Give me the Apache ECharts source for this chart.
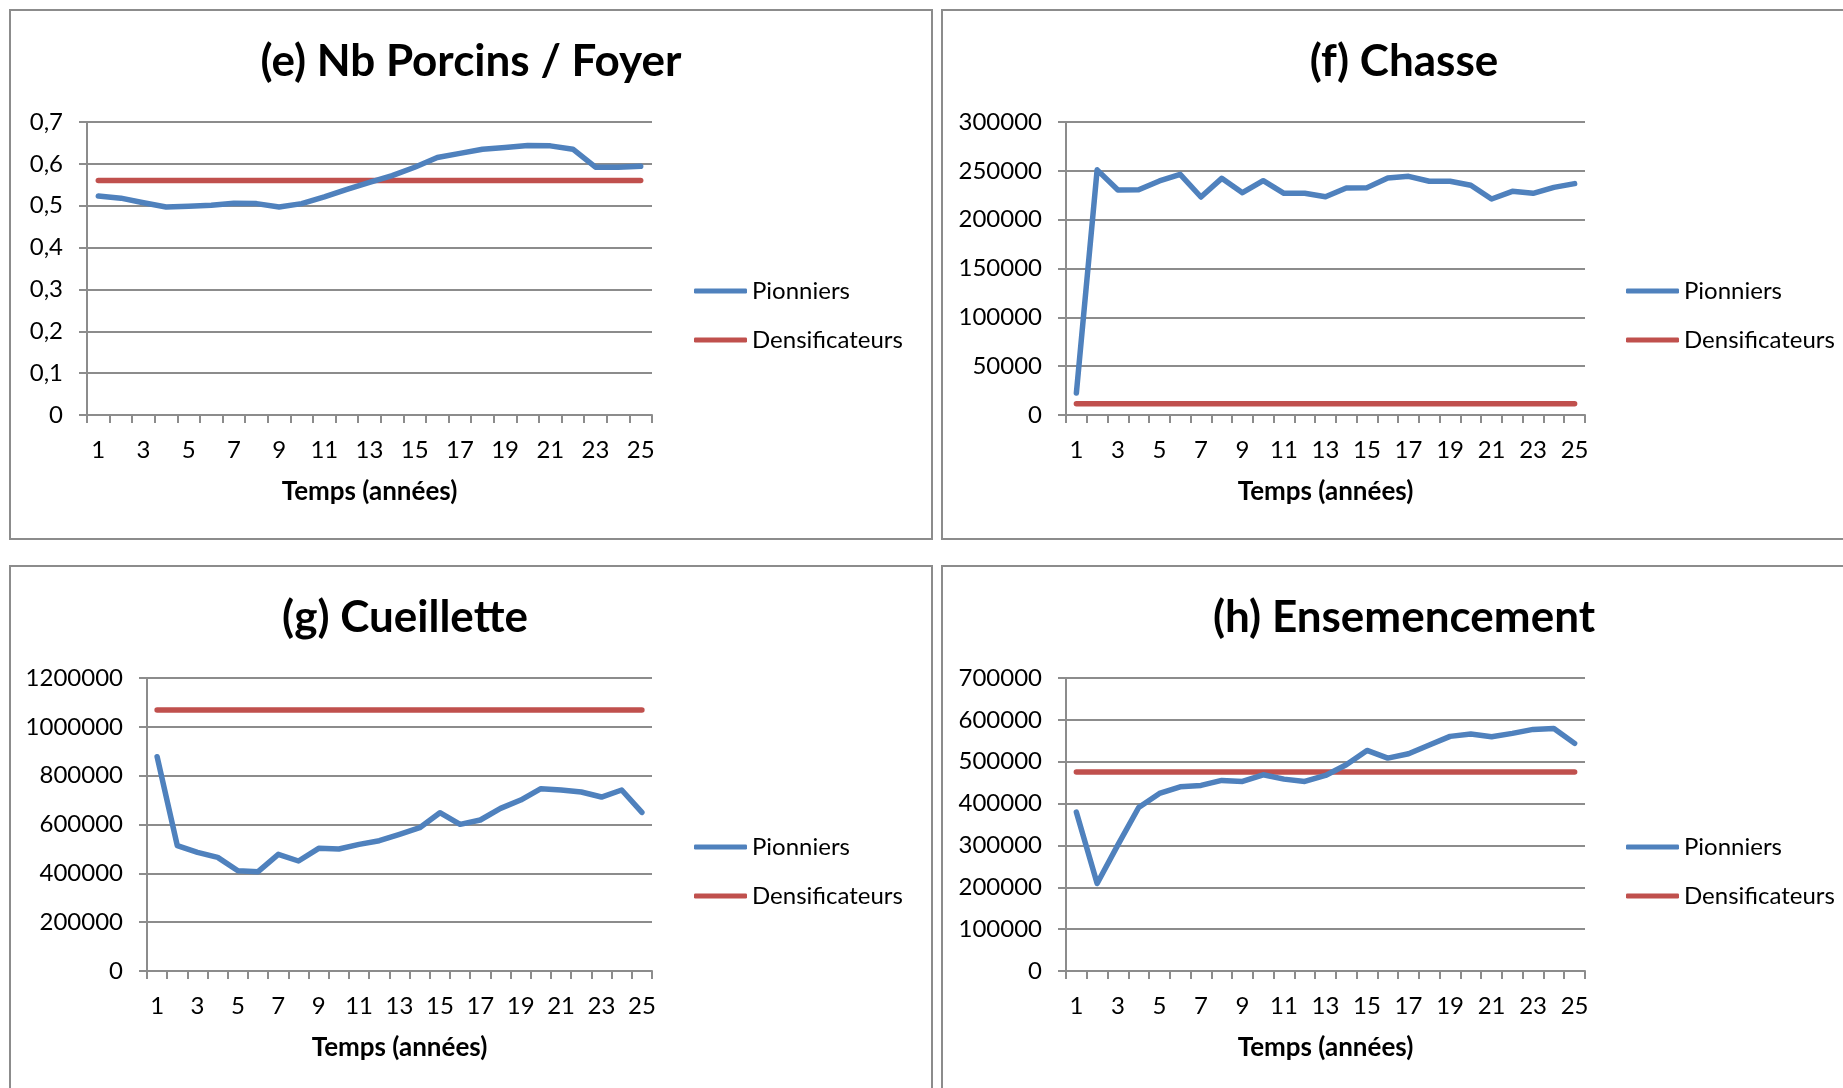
<!DOCTYPE html>
<html>
<head>
<meta charset="utf-8">
<script src="https://cdn.jsdelivr.net/npm/echarts@6/dist/echarts.min.js"></script>
<style>
html,body{margin:0;padding:0;background:#fff;}
#chart{width:1843px;height:1088px;}
</style>
</head>
<body>
<div id="chart"></div>
<script>
// ---- data ----
const years = ['1','2','3','4','5','6','7','8','9','10','11','12','13','14','15','16','17','18','19','20','21','22','23','24','25'];
const seriesNames = ['Pionniers', 'Densificateurs'];
const titles = ['(e) Nb Porcins / Foyer', '(f) Chasse', '(g) Cueillette', '(h) Ensemencement'];
const xAxisTitle = 'Temps (années)';

// (e) Nb Porcins / Foyer
const porcinsPionniers = [0.523,0.518,0.507,0.497,0.499,0.501,0.506,0.505,0.497,0.505,0.521,0.539,0.556,0.572,0.592,0.615,0.625,0.635,0.639,0.644,0.643,0.635,0.592,0.592,0.594];
const porcinsDensificateurs = [0.56,0.56,0.56,0.56,0.56,0.56,0.56,0.56,0.56,0.56,0.56,0.56,0.56,0.56,0.56,0.56,0.56,0.56,0.56,0.56,0.56,0.56,0.56,0.56,0.56];
// (f) Chasse
const chassePionniers = [22500,251000,230400,230700,239600,246400,223200,242300,227600,239900,227000,227000,223500,232400,232800,242700,244400,239300,239300,235200,221200,229000,227000,233100,236900];
const chasseDensificateurs = [11500,11500,11500,11500,11500,11500,11500,11500,11500,11500,11500,11500,11500,11500,11500,11500,11500,11500,11500,11500,11500,11500,11500,11500,11500];
// (g) Cueillette
const cueillettePionniers = [877700,513200,486000,465500,410900,406800,477800,450500,502300,499600,518700,533700,559700,587000,648400,600600,618400,666100,700200,746700,741200,733000,712500,741200,649700];
const cueilletteDensificateurs = [1068800,1068800,1068800,1068800,1068800,1068800,1068800,1068800,1068800,1068800,1068800,1068800,1068800,1068800,1068800,1068800,1068800,1068800,1068800,1068800,1068800,1068800,1068800,1068800,1068800];
// (h) Ensemencement
const ensemPionniers = [379500,208900,301400,390700,424200,440100,443300,455300,452900,468800,458400,452900,467200,492700,527000,508700,519000,539800,560500,566100,559700,567700,577200,579600,543800];
const ensemDensificateurs = [475200,475200,475200,475200,475200,475200,475200,475200,475200,475200,475200,475200,475200,475200,475200,475200,475200,475200,475200,475200,475200,475200,475200,475200,475200];

// y-axis scales
const yMax = [0.7, 300000, 1200000, 700000];
const yInterval = [0.1, 50000, 200000, 100000];

// ---- layout / style ----
const FONT = 'Lato, "Open Sans", "Noto Sans", sans-serif';
const GRAY = '#8c8c8c';
const BLUE = '#4f81bd';
const RED = '#c0504d';

const panels = [
  {grid:{left:87, top:122, width:565, height:293}, titleX:471, titleY:40, legendX:694, legendY:277},
  {grid:{left:1066, top:122, width:519, height:293}, titleX:1404, titleY:40, legendX:1626, legendY:277},
  {grid:{left:147, top:678, width:505, height:293}, titleX:405, titleY:596, legendX:694, legendY:833},
  {grid:{left:1066, top:678, width:519, height:293}, titleX:1404, titleY:596, legendX:1626, legendY:833}
];
const dataSets = [
  [porcinsPionniers, porcinsDensificateurs],
  [chassePionniers, chasseDensificateurs],
  [cueillettePionniers, cueilletteDensificateurs],
  [ensemPionniers, ensemDensificateurs]
];

function fmtY(i) {
  return function (v) {
    if (i === 0) {
      const r = Math.round(v * 10) / 10;
      return String(r).replace('.', ',');
    }
    return String(Math.round(v));
  };
}

const option = {
  animation: false,
  backgroundColor: '#fff',
  textStyle: {fontFamily: FONT},
  title: panels.map((p, i) => ({
    text: titles[i],
    left: p.titleX, top: p.titleY,
    textAlign: 'center',
    padding: 0,
    textStyle: {fontFamily: FONT, fontWeight: 'bold', fontSize: 44, color: '#000'}
  })),
  legend: panels.map((p) => ({
    orient: 'vertical',
    left: p.legendX, top: p.legendY,
    padding: 0,
    itemGap: 21,
    itemWidth: 53, itemHeight: 5,
    icon: 'roundRect',
    data: seriesNames,
    textStyle: {fontFamily: FONT, fontSize: 24, color: '#000', lineHeight: 28}
  })),
  grid: panels.map(p => Object.assign({containLabel: false}, p.grid)),
  xAxis: panels.map((p, i) => ({
    type: 'category',
    gridIndex: i,
    data: years,
    boundaryGap: true,
    name: xAxisTitle,
    nameLocation: 'middle',
    nameGap: 64,
    nameTextStyle: {fontFamily: FONT, fontWeight: 'bold', fontSize: 26, color: '#000'},
    axisLine: {show: true, lineStyle: {color: GRAY, width: 2}},
    axisTick: {show: true, interval: 0, length: 8, alignWithLabel: false, lineStyle: {color: GRAY, width: 2}},
    axisLabel: {interval: 1, margin: 23, fontFamily: FONT, fontSize: 24, color: '#000'},
    splitLine: {show: false}
  })),
  yAxis: panels.map((p, i) => ({
    type: 'value',
    gridIndex: i,
    min: 0, max: yMax[i], interval: yInterval[i],
    axisLine: {show: true, lineStyle: {color: GRAY, width: 2}},
    axisTick: {show: true, length: 8, lineStyle: {color: GRAY, width: 2}},
    axisLabel: {margin: 24, fontFamily: FONT, fontSize: 24, color: '#000', formatter: fmtY(i)},
    splitLine: {show: true, lineStyle: {color: GRAY, width: 2}}
  })),
  series: [],
  graphic: [
    {type:'rect', shape:{x:10, y:10, width:922, height:529}, style:{fill:'none', stroke:GRAY, lineWidth:2}, silent:true},
    {type:'rect', shape:{x:942, y:10, width:1000, height:529}, style:{fill:'none', stroke:GRAY, lineWidth:2}, silent:true},
    {type:'rect', shape:{x:10, y:566, width:922, height:700}, style:{fill:'none', stroke:GRAY, lineWidth:2}, silent:true},
    {type:'rect', shape:{x:942, y:566, width:1000, height:700}, style:{fill:'none', stroke:GRAY, lineWidth:2}, silent:true}
  ]
};

dataSets.forEach((ds, i) => {
  ds.forEach((vals, k) => {
    option.series.push({
      name: seriesNames[k],
      type: 'line',
      xAxisIndex: i, yAxisIndex: i,
      data: vals,
      symbol: 'none',
      color: k === 0 ? BLUE : RED,
      lineStyle: {width: 5.5, color: k === 0 ? BLUE : RED, cap: 'round', join: 'round'},
      z: k === 0 ? 3 : 2
    });
  });
});

const chart = echarts.init(document.getElementById('chart'), null, {renderer: 'canvas'});
chart.setOption(option);
</script>
</body>
</html>
